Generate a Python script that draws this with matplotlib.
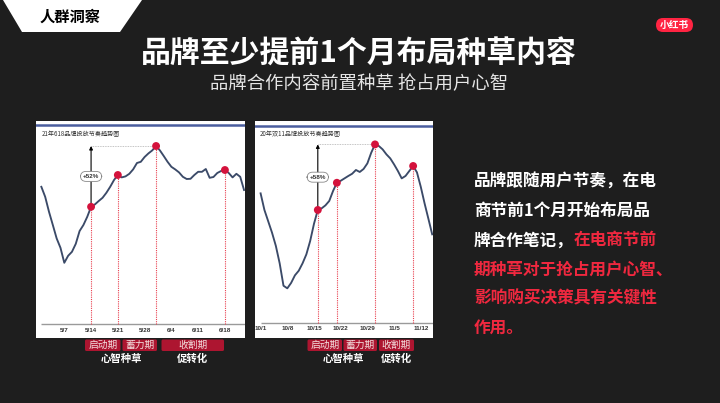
import matplotlib
matplotlib.use('Agg')
import matplotlib.pyplot as plt
from matplotlib.patches import Polygon, FancyBboxPatch

plt.rcParams['font.family'] = ['Noto Sans CJK SC', 'DejaVu Sans']

BG = '#1e1e1e'
RED_TXT = '#f0283f'

# ---------------- data ----------------
left_title = '21年618品牌投放节奏趋势图'
left_days = list(range(-6, 48))          # days relative to 5/7
left_values = [68.8, 63.8, 56.3, 49.7, 43.0, 38.3, 30.8, 34.3, 36.3, 40.3,
               46.7, 49.7, 53.8, 58.8, 60.0, 61.7, 63.3, 65.8, 68.8, 72.2,
               74.7, 73.5, 74.0, 75.3, 77.5, 80.7, 81.3, 83.7, 85.5, 87.0,
               89.2, 87.0, 84.2, 81.3, 78.8, 77.5, 76.0, 73.8, 72.7, 72.8,
               74.7, 76.3, 76.3, 77.7, 73.3, 73.7, 75.7, 76.7, 77.2, 75.7,
               73.5, 75.3, 73.8, 67.2]
left_tick_days = [0, 7, 14, 21, 28, 35, 42]
left_tick_labels = ['5/7', '5/14', '5/21', '5/28', '6/4', '6/11', '6/18']
left_dot_days = [7, 14, 24, 42]
left_gain = '+52%'

right_title = '20年双11品牌投放节奏趋势图'
right_days = list(range(0, 46))          # days relative to 10/1
right_values = [65.0, 56.7, 51.0, 45.3, 38.7, 30.0, 18.8, 17.5, 20.2, 24.0,
                26.3, 30.0, 34.5, 41.2, 49.8, 56.7, 57.5, 59.0, 61.2, 66.2,
                70.3, 71.3, 72.5, 73.7, 74.8, 76.7, 75.7, 77.2, 80.0, 85.3,
                89.5, 88.7, 87.0, 84.5, 82.5, 79.5, 76.2, 72.5, 73.7, 76.2,
                78.7, 75.5, 68.3, 60.0, 52.3, 44.5]
right_tick_days = [0, 7, 14, 21, 28, 35, 42]
right_tick_labels = ['10/1', '10/8', '10/15', '10/22', '10/29', '11/5', '11/12']
right_dot_days = [15, 20, 30, 40]
right_gain = '+58%'

phase_labels = ['启动期', '蓄力期', '收割期']
group_labels = ['心智种草', '促转化']

title = '品牌至少提前1个月布局种草内容'
subtitle = '品牌合作内容前置种草 抢占用户心智'
section = '人群洞察'
brand = '小红书'
body_lines = [
    [('品牌跟随用户节奏，在电', 'white')],
    [('商节前1个月开始布局品', 'white')],
    [('牌合作笔记，', 'white'), ('在电商节前', RED_TXT)],
    [('期种草对于抢占用户心智、', RED_TXT)],
    [('影响购买决策具有关键性', RED_TXT)],
    [('作用。', RED_TXT)],
]

# ---------------- figure ----------------
fig = plt.figure(figsize=(7.2, 4.03), dpi=100, facecolor=BG)
bg = fig.add_axes([0, 0, 1, 1])
bg.set_xlim(0, 720)
bg.set_ylim(403, 0)
bg.axis('off')
bg.set_facecolor(BG)

# section tag
bg.add_patch(Polygon([(3, 0), (142, 0), (120, 32), (22, 32)], closed=True,
                     facecolor='white', edgecolor='none'))
bg.text(70, 17, section, ha='center', va='center', fontsize=11,
        fontweight='bold', color='black')

# brand pill
bg.add_patch(FancyBboxPatch((656, 18), 37, 14,
                            boxstyle='round,pad=0,rounding_size=7',
                            facecolor='#ff2442', edgecolor='none'))
bg.text(674.5, 25, brand, ha='center', va='center', fontsize=7,
        fontweight='bold', color='white')

# titles
bg.text(359, 54, title, ha='center', va='center', fontsize=21.5,
        fontweight='bold', color='white')
bg.text(359, 84, subtitle, ha='center', va='center', fontsize=13.2,
        color='#e6e6e6')

# body text
y0, dy = 182, 29.1
for i, line in enumerate(body_lines):
    prev = None
    for txt, col in line:
        if prev is None:
            prev = bg.text(474, y0 + i * dy, txt, ha='left', va='center',
                           fontsize=12, fontweight='bold', color=col)
        else:
            prev = bg.annotate(txt, xy=(1, 0), xycoords=prev, ha='left',
                               va='bottom', fontsize=12, fontweight='bold',
                               color=col)


def panel(rect, days, values, ticks, labels, dots, gain, ttl, xlim, ylim, blue_y):
    ax = fig.add_axes(rect)
    ax.set_facecolor('white')
    ax.set_xlim(*xlim)
    ax.set_ylim(*ylim)
    for s in ax.spines.values():
        s.set_visible(False)
    ax.set_xticks([])
    ax.set_yticks([])
    ax.axhline(blue_y, color='#4a5d9e', lw=1.8)
    ax.hlines(0, days[0], xlim[1], color='#9a9a9a', lw=1.0)
    ax.plot(days, values, color='#3b4a68', lw=1.35, zorder=3)
    dv = [values[days.index(d)] for d in dots]
    ax.vlines(dots, 0, dv, colors='#e8404f', linestyles=(0, (1, 1)), lw=0.8,
              zorder=2)
    ax.scatter(dots, dv, s=32, color='#d4123c', zorder=5, edgecolors='none')
    peak = max(dv)
    pk_day = dots[dv.index(peak)]
    ax.hlines(peak, dots[0], pk_day, colors='#b0b0b0', linestyles=(0, (1, 1)),
              lw=0.6, zorder=2)
    ax.annotate('', xy=(dots[0], peak), xytext=(dots[0], dv[0]),
                arrowprops=dict(arrowstyle='-|>', color='black', lw=0.8,
                                mutation_scale=5, shrinkA=0, shrinkB=0),
                zorder=4)
    ax.text(dots[0], (peak + dv[0]) / 2, gain, ha='center', va='center',
            fontsize=4.5, fontweight='bold', color='#333333',
            family='Liberation Sans',
            bbox=dict(boxstyle='round,pad=0.4,rounding_size=0.9',
                      facecolor='white', edgecolor='#888888', lw=0.6),
            zorder=6)
    for t, l in zip(ticks, labels):
        ax.text(t, -2.8, l, ha='center', va='center', fontsize=4.5,
                fontweight='bold', color='#333333', family='Liberation Sans')
    ax.text(0.025, 0.94, ttl, transform=ax.transAxes, ha='left', va='center',
            fontsize=4.4, color='#333333')
    return ax


panel([36 / 720, 1 - 338 / 403, 209 / 720, 217 / 403], left_days, left_values,
      left_tick_days, left_tick_labels, left_dot_days, left_gain, left_title,
      (-7.4, 47.25), (-6.8, 101.7), 99.6)
panel([255 / 720, 1 - 337.7 / 403, 177.7 / 720, 216.7 / 403], right_days,
      right_values, right_tick_days, right_tick_labels, right_dot_days,
      right_gain, right_title, (-1.47, 45.13), (-7.2, 101.2), 98.8)


def phase_box(x0, x1, txt):
    bg.add_patch(FancyBboxPatch((x0, 339.5), x1 - x0, 11.5,
                                boxstyle='round,pad=0,rounding_size=1.5',
                                facecolor='#ad1530', edgecolor='none'))
    bg.text((x0 + x1) / 2, 345.3, txt, ha='center', va='center', fontsize=7,
            color='#f4dede')


for (x0, x1), t in zip([(85, 120.5), (122.5, 157), (161.5, 224)], phase_labels):
    phase_box(x0, x1, t)
for (x0, x1), t in zip([(307.5, 342), (343.5, 377), (379, 414)], phase_labels):
    phase_box(x0, x1, t)

for x, t in zip([121, 192.5, 343, 396], group_labels * 2):
    bg.text(x, 359, t, ha='center', va='center', fontsize=7.5,
            fontweight='bold', color='white')

fig.savefig('out.png', dpi=100, facecolor=BG)
